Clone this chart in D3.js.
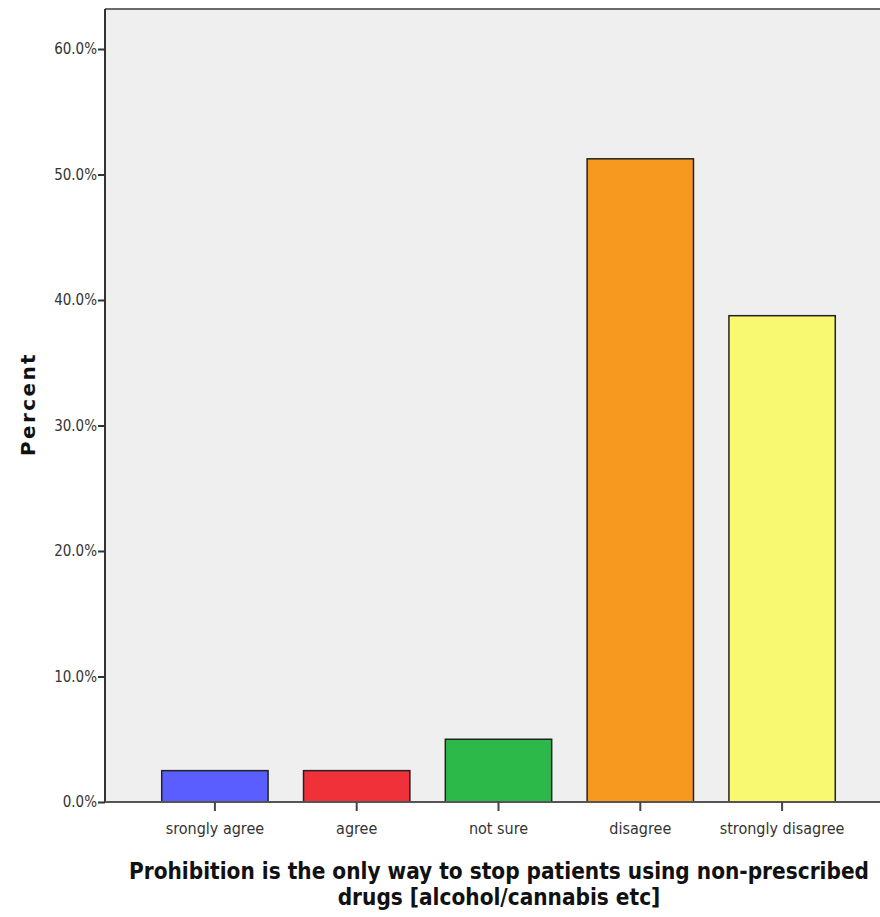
<!DOCTYPE html>
<html>
<head>
<meta charset="utf-8">
<script src="https://cdn.jsdelivr.net/npm/d3@7"></script>
<style>
  html, body { margin: 0; padding: 0; background: #fff; }
  svg { display: block; }
  .cond { font-family: 'DejaVu Sans Condensed', 'DejaVu Sans', sans-serif; font-stretch: condensed; }
</style>
</head>
<body>
<svg id="chart" width="880" height="917"></svg>
<script>
const categories = ["srongly agree", "agree", "not sure", "disagree", "strongly disagree"];
const percents = [2.5, 2.5, 5.0, 51.25, 38.75];
const barColors = ["#5a5eff", "#f0313a", "#2db84a", "#f7981f", "#f9f871"];
const yTicks = [0, 10, 20, 30, 40, 50, 60];
const yLabel = "Percent";
const xTitleLines = ["Prohibition is the only way to stop patients using non-prescribed", "drugs [alcohol/cannabis etc]"];

const svg = d3.select("#chart");
const plotLeft = 105, plotTop = 9, plotBottom = 802, plotRight = 900;

const y = d3.scaleLinear().domain([0, 60]).range([plotBottom, 49]);
const x = d3.scaleBand().domain(categories).range([144, 853]).paddingInner(0.25).paddingOuter(0.125);

svg.append("rect")
  .attr("x", plotLeft).attr("y", plotTop)
  .attr("width", plotRight - plotLeft).attr("height", plotBottom - plotTop)
  .attr("fill", "#efefef");
svg.append("line")
  .attr("x1", plotLeft).attr("x2", plotRight)
  .attr("y1", plotTop).attr("y2", plotTop)
  .attr("stroke", "#6a6a6a").attr("stroke-width", 2);

svg.append("g").selectAll("rect")
  .data(categories)
  .join("rect")
  .attr("x", d => x(d))
  .attr("width", x.bandwidth())
  .attr("y", (d, i) => y(percents[i]))
  .attr("height", (d, i) => y(0) - y(percents[i]))
  .attr("fill", (d, i) => barColors[i])
  .attr("stroke", "#222")
  .attr("stroke-width", 1.5);

const yAxis = d3.axisLeft(y).tickValues(yTicks).tickSize(7).tickPadding(1)
  .tickFormat(d => d3.format(".1f")(d) + "%");
const gy = svg.append("g").attr("transform", `translate(${plotLeft},0)`).call(yAxis);
gy.attr("font-family", null).attr("font-size", null);
gy.select(".domain").attr("stroke", "#333").attr("stroke-width", 2)
  .attr("d", `M0,${plotTop}V${plotBottom}`);
gy.selectAll(".tick line").attr("stroke", "#333").attr("stroke-width", 2);
gy.selectAll(".tick text").attr("class", "cond").attr("fill", "#333").style("font-size", "15px");

const xAxis = d3.axisBottom(x).tickSize(9).tickPadding(12);
const gx = svg.append("g").attr("transform", `translate(0,${plotBottom})`).call(xAxis);
gx.attr("font-family", null).attr("font-size", null);
gx.select(".domain").attr("stroke", "#555").attr("stroke-width", 2)
  .attr("d", `M${plotLeft},0H${plotRight}`);
gx.selectAll(".tick line").attr("stroke", "#444").attr("stroke-width", 2);
gx.selectAll(".tick text").attr("class", "cond").attr("fill", "#333").style("font-size", "16px");

svg.append("text")
  .attr("transform", "translate(35,404) rotate(-90)")
  .attr("text-anchor", "middle")
  .style("font-family", "'DejaVu Sans', sans-serif")
  .style("font-weight", "bold")
  .style("font-size", "20px")
  .style("letter-spacing", "2.4px")
  .attr("fill", "#111")
  .text(yLabel);

svg.append("g").selectAll("text")
  .data(xTitleLines)
  .join("text")
  .attr("class", "cond")
  .attr("x", 499)
  .attr("y", (d, i) => 879 + i * 26)
  .attr("text-anchor", "middle")
  .style("font-weight", "bold")
  .style("font-size", "22.4px")
  .attr("fill", "#111")
  .text(d => d);
</script>
</body>
</html>
